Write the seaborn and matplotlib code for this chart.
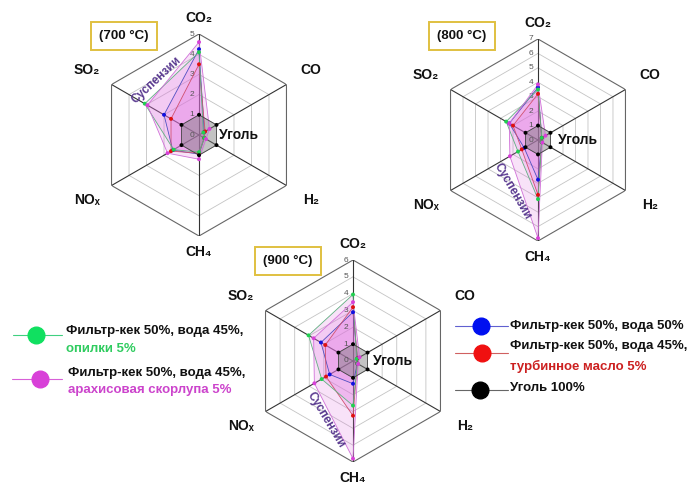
import numpy as np
import matplotlib
matplotlib.use('Agg')
import matplotlib.pyplot as plt
import seaborn as sns

# Данные (значения относительно угля = 1)
categories = ['CO₂', 'CO', 'H₂', 'CH₄', 'NOₓ', 'SO₂']

temps = ['(700 °C)', '(800 °C)', '(900 °C)']
rmax = [5, 7, 6]

blue_700 = [4.25, 0.30, 0.30, 0.95, 1.50, 2.00]
red_700 = [3.50, 0.35, 0.30, 0.90, 1.60, 1.60]
green_700 = [4.10, 0.25, 0.30, 0.85, 1.45, 3.10]
magenta_700 = [4.60, 0.60, 0.40, 1.20, 1.80, 2.95]
coal_700 = [1, 1, 1, 1, 1, 1]

blue_800 = [3.65, 0.30, 0.30, 2.75, 1.10, 2.30]
red_800 = [3.20, 0.30, 0.30, 3.80, 1.30, 2.00]
green_800 = [3.50, 0.30, 0.30, 4.10, 1.60, 2.55]
magenta_800 = [3.85, 0.60, 0.35, 6.80, 2.25, 2.30]
coal_800 = [1, 1, 1, 1, 1, 1]

blue_900 = [2.90, 0.30, 0.30, 1.35, 1.60, 2.20]
red_900 = [3.20, 0.30, 0.30, 3.25, 1.85, 1.90]
green_900 = [3.95, 0.25, 0.30, 2.65, 2.15, 3.05]
magenta_900 = [3.50, 0.45, 0.35, 5.80, 2.65, 2.70]
coal_900 = [1, 1, 1, 1, 1, 1]

colors = ['#1010e0', '#e01010', '#20d050', '#d840d8', '#000000']
line_colors = ['#5050c0', '#d05070', '#60b080', '#d070d8', '#444444']

data = [
    [blue_700, red_700, green_700, magenta_700, coal_700],
    [blue_800, red_800, green_800, magenta_800, coal_800],
    [blue_900, red_900, green_900, magenta_900, coal_900],
]

sns.set_theme(style='white')
plt.rcParams['font.family'] = ['Liberation Sans', 'DejaVu Sans']

W, H = 693, 484
fig = plt.figure(figsize=(W / 100, H / 100), dpi=100)

# фоновая ось в пикселях для подписей и легенды
bg = fig.add_axes([0, 0, 1, 1])
bg.set_xlim(0, W)
bg.set_ylim(H, 0)
bg.axis('off')

# центры диаграмм (px) и радиус
centers = [(199, 135), (538, 140), (353, 361)]
R = 101
box_pos = [(124, 36), (462, 36), (288, 261)]
susp_pos = [((0.29, 0.77), 43), ((0.375, 0.245), -60), ((0.365, 0.21), -59)]

theta = np.deg2rad(np.arange(0, 360, 60))
theta_c = np.append(theta, theta[0] + 2 * np.pi)

for k in range(3):
    cx, cy = centers[k]
    ax = fig.add_axes([(cx - R) / W, (H - cy - R) / H, 2 * R / W, 2 * R / H],
                      projection='polar')
    ax.set_facecolor('none')
    ax.set_theta_offset(np.pi / 2)
    ax.set_theta_direction(-1)
    ax.grid(False)
    ax.set_xticks([])
    ax.set_yticks([])
    ax.spines['polar'].set_visible(False)
    m = rmax[k]

    # шестиугольная сетка
    for r in range(1, m + 1):
        ax.plot(theta_c, [r] * 7, color='#666666' if r == m else '#c4c4c4',
                lw=0.8 if r == m else 0.6, zorder=1)
    for t in theta:
        ax.plot([t, t], [0, m], color='#333333', lw=0.8, zorder=1)
    for r in range(0, m + 1):
        ax.annotate(str(r), (0, r), xytext=(-3.5, 0), textcoords='offset points',
                    ha='right', va='center', fontsize=6, color='#555555')

    # ряды
    for vals, col, lc in zip(data[k], colors, line_colors):
        v = np.append(vals, vals[0])
        if col == '#000000':
            ax.fill(theta_c, v, color='#7a7a7a', alpha=0.45, lw=0, zorder=2)
        else:
            ax.fill(theta_c, v, color='#e070e0', alpha=0.2, lw=0, zorder=2)
        sns.lineplot(x=theta_c, y=v, sort=False, estimator=None, ax=ax,
                     color=lc, lw=0.6, zorder=3)
        sns.scatterplot(x=theta, y=vals, ax=ax, color=col, s=8,
                        edgecolor='none', zorder=4)
    ax.set_xlabel('')
    ax.set_ylabel('')
    ax.set_ylim(0, m)

    # подписи осей
    for t, lab in zip(theta, categories):
        rr = m * (1.16 if lab in ('CO₂', 'CH₄') else 1.28)
        ax.text(t, rr, lab, ha='center', va='center', fontsize=10,
                fontweight='bold', color='#111111')

    ax.text(0.6, 0.5, 'Уголь', transform=ax.transAxes, ha='left', va='center',
            fontsize=10, fontweight='bold', color='#111111', zorder=6)
    (sx, sy), rot = susp_pos[k]
    ax.text(sx, sy, 'Суспензии', transform=ax.transAxes, ha='center',
            va='center', rotation=rot, fontsize=8.5, fontweight='bold',
            color='#5a3a90', zorder=6)

    bx, by = box_pos[k]
    bg.text(bx, by, temps[k], ha='center', va='center', fontsize=9.5,
            fontweight='bold', color='#111111',
            bbox=dict(boxstyle='square,pad=0.6', fc='white', ec='#e0c040', lw=1.4))

# легенда
def key(x0, x1, xm, y, col, lc):
    bg.plot([x0, x1], [y, y], color=lc, lw=0.8)
    bg.plot([xm], [y], marker='o', ms=12, color=col, mec=col)

key(13, 62, 36, 335, '#10e060', '#40d080')
bg.text(66, 331, 'Фильтр-кек 50%, вода 45%,', fontsize=9.5, fontweight='bold',
        va='center', color='#111111')
bg.text(66, 349, 'опилки 5%', fontsize=9.5, fontweight='bold', va='center',
        color='#30cc60')

key(12, 62, 40, 379, '#d840d8', '#d860d8')
bg.text(68, 373, 'Фильтр-кек 50%, вода 45%,', fontsize=9.5, fontweight='bold',
        va='center', color='#111111')
bg.text(68, 390, 'арахисовая скорлупа 5%', fontsize=9.5, fontweight='bold',
        va='center', color='#cc44cc')

key(455, 508, 481, 326, '#0010f0', '#6060d0')
bg.text(510, 326, 'Фильтр-кек 50%, вода 50%', fontsize=9.5, fontweight='bold',
        va='center', color='#111111')

key(455, 508, 482, 353, '#f01010', '#d06060')
bg.text(510, 346, 'Фильтр-кек 50%, вода 45%,', fontsize=9.5, fontweight='bold',
        va='center', color='#111111')
bg.text(510, 366, 'турбинное масло 5%', fontsize=9.5, fontweight='bold',
        va='center', color='#cc2020')

key(455, 508, 480, 390, '#000000', '#666666')
bg.text(510, 388, 'Уголь 100%', fontsize=9.5, fontweight='bold',
        va='center', color='#111111')

fig.savefig('out.png', dpi=100, facecolor='white')
plt.close(fig)
